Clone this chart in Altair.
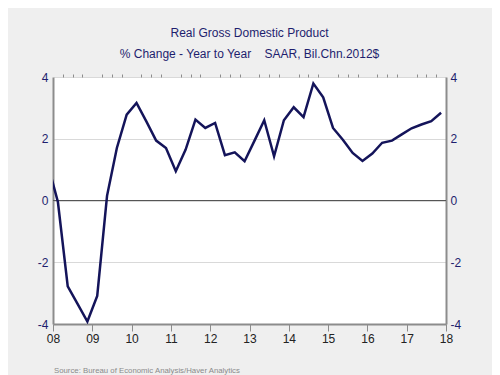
import altair as alt
import pandas as pd

# quarterly positions (fractional years as drawn) and values (% change, year to year)
t = [2007.875, 2008.125, 2008.375, 2008.625, 2008.875,
     2009.125, 2009.375, 2009.625, 2009.875,
     2010.125, 2010.375, 2010.625, 2010.875,
     2011.125, 2011.375, 2011.625, 2011.875,
     2012.125, 2012.375, 2012.625, 2012.875,
     2013.125, 2013.375, 2013.625, 2013.875,
     2014.125, 2014.375, 2014.625, 2014.875,
     2015.125, 2015.375, 2015.625, 2015.875,
     2016.125, 2016.375, 2016.625, 2016.875,
     2017.125, 2017.375, 2017.625, 2017.875]
v = [1.15, -0.05, -2.78, -3.35, -3.92,
     -3.09, 0.15, 1.70, 2.78,
     3.16, 2.56, 1.94, 1.70,
     0.95, 1.65, 2.62, 2.35,
     2.51, 1.47, 1.56, 1.27,
     1.93, 2.60, 1.43, 2.60,
     3.02, 2.70, 3.79, 3.34,
     2.35, 1.97, 1.54, 1.28,
     1.52, 1.87, 1.94, 2.14,
     2.34, 2.46, 2.57, 2.84]

year_ticks = list(range(2008, 2019))
quarter_ticks = [y + q / 4 for y in range(2008, 2018) for q in (1, 2, 3)]
y_ticks = [-4, -2, 0, 2, 4]

title = "Real Gross Domestic Product"
subtitle = "% Change - Year to Year \u00a0 \u00a0SAAR, Bil.Chn.2012$"
source = "Source:  Bureau of Economic Analysis/Haver Analytics"

df = pd.DataFrame({"t": t, "v": v})
FONT = "Liberation Sans"
NAVY = "#1e1e6e"
LINE = "#14145a"
AXIS = "#8c8c8c"

xscale = alt.Scale(domain=[2008, 2018], nice=False, zero=False)
yscale = alt.Scale(domain=[-4, 4], nice=False)

line = alt.Chart(df).mark_line(color=LINE, strokeWidth=2.5, clip=True).encode(
    x=alt.X("t:Q", scale=xscale, title=None,
            axis=alt.Axis(values=year_ticks, labelExpr="slice(toString(datum.value), 2)",
                          tickSize=7, tickColor=AXIS, domainColor=AXIS, domainWidth=2,
                          labelColor="#222222", labelFontSize=12, labelFont=FONT,
                          labelPadding=2, grid=False, labelFlush=False)),
    y=alt.Y("v:Q", scale=yscale, title=None,
            axis=alt.Axis(values=y_ticks, orient="left", ticks=False, domainColor=AXIS,
                          domainWidth=2, grid=True, gridColor="#d9d9d9",
                          labelExpr="toString(datum.value)",
                          labelColor=NAVY, labelFontSize=12, labelFont=FONT,
                          labelPadding=5, labelFlush=False)),
)

ghost = alt.Chart(df).mark_line(opacity=0).encode(
    x=alt.X("t:Q", scale=xscale, title=None,
            axis=alt.Axis(values=quarter_ticks, labels=False, tickSize=3,
                          tickColor=AXIS, domain=False, grid=False)),
    y=alt.Y("v:Q", scale=yscale, title=None,
            axis=alt.Axis(values=y_ticks, orient="right", ticks=False, domainColor=AXIS,
                          domainWidth=2, grid=False, labelColor=NAVY, labelFontSize=12,
                          labelExpr="toString(datum.value)",
                          labelFont=FONT, labelPadding=4, labelFlush=False)),
)

zero = alt.Chart(pd.DataFrame({"z": [0]})).mark_rule(color="#555555", strokeWidth=1).encode(
    y=alt.Y("z:Q", scale=yscale, axis=None)
)

src = alt.Chart(pd.DataFrame({"s": [source]})).mark_text(
    align="left", baseline="alphabetic", fontSize=7.8, font=FONT, color="#8a8a8a"
).encode(x=alt.value(1), y=alt.value(296), text="s:N")

chart = alt.layer(zero, line, ghost, src).resolve_axis(
    x="independent", y="independent"
).properties(
    width=393, height=247,
    autosize=alt.AutoSizeParams(type="none"),
    padding={"left": 45, "top": 69, "right": 46, "bottom": 51},
    background="#efefef",
    title=alt.TitleParams(text=title, subtitle=subtitle, anchor="middle",
                          font=FONT, fontSize=12, fontWeight="normal", color=NAVY,
                          subtitleFont=FONT, subtitleFontSize=12, subtitleColor=NAVY,
                          subtitlePadding=9, offset=10),
).configure_view(stroke=None, fill="white")

chart.save("out.html", embed_options={"renderer": "svg", "actions": False})
